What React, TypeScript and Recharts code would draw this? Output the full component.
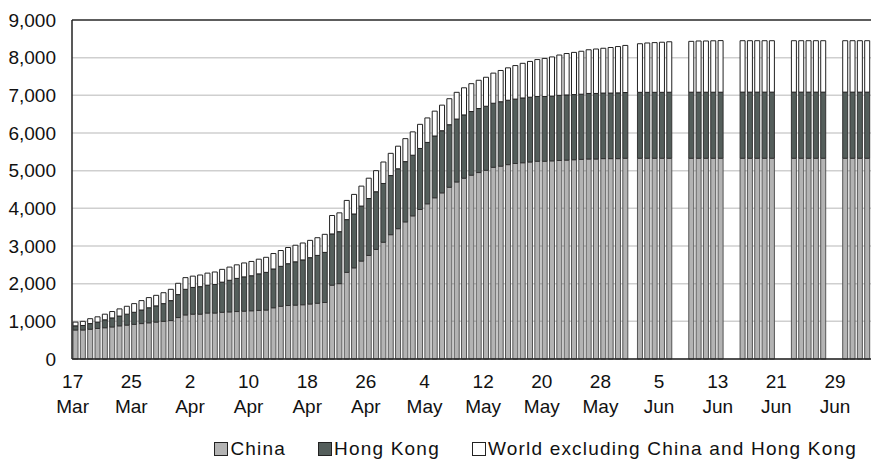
import React from 'react';
import { BarChart, Bar, XAxis, YAxis, CartesianGrid, Legend, ReferenceLine } from 'recharts';

const N = null;
const china = [
  770,770,790,810,830,850,880,900,920,940,960,980,1000,1020,1100,1170,
  1190,1190,1220,1220,1240,1250,1260,1270,1280,1290,1300,1360,1400,1420,1430,1440,1460,1480,1500,
  1960,2000,2300,2420,2600,2750,2910,3100,3300,3460,3640,3800,3970,4120,4280,4410,4560,4700,4800,4880,4950,5010,5090,5120,5160,5190,5210,5230,5250,5250,5260,5270,5280,5290,5300,5310,5310,5320,5320,5320,5330,
  N,5330,5330,5330,5330,5330,N,N,5330,5330,5330,5330,5330,N,N,5330,5330,5330,5330,5330,N,N,5330,5330,5330,5330,5330,N,N,5330,5330,5330,5330,
];
const hongKong = [
  110,120,150,170,210,240,260,290,320,360,400,430,470,530,610,680,
  710,730,740,760,800,840,880,910,930,970,1000,1030,1060,1110,1150,1190,1230,1270,1330,
  1360,1380,1400,1430,1460,1510,1530,1560,1570,1590,1600,1610,1620,1630,1640,1650,1660,1670,1680,1690,1700,1700,1700,1710,1710,1710,1720,1720,1720,1720,1720,1730,1730,1730,1730,1740,1740,1740,1740,1745,1745,
  N,1750,1750,1750,1750,1752,N,N,1753,1753,1753,1753,1753,N,N,1755,1755,1755,1755,1755,N,N,1755,1755,1755,1755,1755,N,N,1755,1755,1755,1755,
];
const world = [
  100,110,130,140,150,170,190,210,230,250,270,280,290,300,300,310,
  300,310,320,330,340,350,360,370,380,390,400,410,420,430,440,450,460,470,480,
  490,500,510,520,530,540,560,570,590,600,610,620,640,650,660,680,690,710,720,740,750,770,800,830,860,890,920,950,980,1010,1040,1070,1100,1120,1140,1160,1180,1190,1210,1230,1250,
  N,1290,1310,1320,1330,1340,N,N,1350,1360,1360,1365,1370,N,N,1365,1365,1365,1365,1365,N,N,1365,1365,1365,1365,1365,N,N,1365,1365,1365,1365,
];
const tickIdx = [0, 8, 16, 24, 32, 40, 48, 56, 64, 72, 80, 88, 96, 104];
const tickLabels = ['17 Mar','25 Mar','2 Apr','10 Apr','18 Apr','26 Apr','4 May','12 May','20 May','28 May','5 Jun','13 Jun','21 Jun','29 Jun'];
const yTicks = [0,1000,2000,3000,4000,5000,6000,7000,8000,9000];

const data = china.map((c, i) => ({ i, china: c, hk: hongKong[i], world: world[i] }));
const FONT = 'Liberation Sans, Arial, sans-serif';

const XTick = (props: any) => {
  const { x, y, payload } = props;
  const k = tickIdx.indexOf(payload.value);
  if (k < 0) return null;
  const [d, m] = tickLabels[k].split(' ');
  return (
    <text x={x - 3} y={y} textAnchor="middle" fontFamily={FONT} fontSize={19} fill="#111">
      <tspan x={x - 3} dy={21}>{d}</tspan>
      <tspan x={x - 3} dy={25}>{m}</tspan>
    </text>
  );
};

const LegendContent = () => {
  const items = [
    { c: '#b3b3b3', t: 'China' },
    { c: '#545e5b', t: 'Hong Kong' },
    { c: '#ffffff', t: 'World excluding China and Hong Kong' },
  ];
  return (
    <div style={{ display: 'flex', justifyContent: 'flex-end', paddingRight: 14, paddingTop: 14, fontFamily: FONT, fontSize: 19, letterSpacing: 1.2, color: '#111' }}>
      {items.map((it) => (
        <span key={it.t} style={{ display: 'flex', alignItems: 'center', marginLeft: 32 }}>
          <span style={{ width: 14, height: 14, background: it.c, border: '1px solid #222', marginRight: 2, boxSizing: 'border-box' }} />
          {it.t}
        </span>
      ))}
    </div>
  );
};

export default function App() {
  return (
    <div style={{ position: 'absolute', left: 0, top: 0, background: '#fff' }}>
      <BarChart width={872} height={459} data={data} margin={{ top: 20, right: 1, left: 0, bottom: 0 }} barCategoryGap="14%">
        <CartesianGrid vertical={false} stroke="#cfcfcf" strokeWidth={1.5} />
        <XAxis dataKey="i" type="category" ticks={tickIdx} interval={0} tick={<XTick />} tickLine={false} axisLine={{ stroke: '#222', strokeWidth: 1.5 }} height={65} />
        <YAxis domain={[0, 9000]} ticks={yTicks} tickFormatter={(v: number) => v.toLocaleString('en-US')} width={72} tickLine={false} axisLine={{ stroke: '#222', strokeWidth: 1.5 }} tick={{ fontFamily: FONT, fontSize: 19, fill: '#111' }} tickMargin={10} />
        <ReferenceLine y={9000} stroke="#333" strokeWidth={1.5} />
        <Legend verticalAlign="bottom" height={35} content={<LegendContent />} />
        <Bar dataKey="china" stackId="a" fill="#b3b3b3" stroke="#555" strokeWidth={1} isAnimationActive={false} />
        <Bar dataKey="hk" stackId="a" fill="#545e5b" stroke="#333" strokeWidth={1} isAnimationActive={false} />
        <Bar dataKey="world" stackId="a" fill="#ffffff" stroke="#222" strokeWidth={1} isAnimationActive={false} />
      </BarChart>
    </div>
  );
}
